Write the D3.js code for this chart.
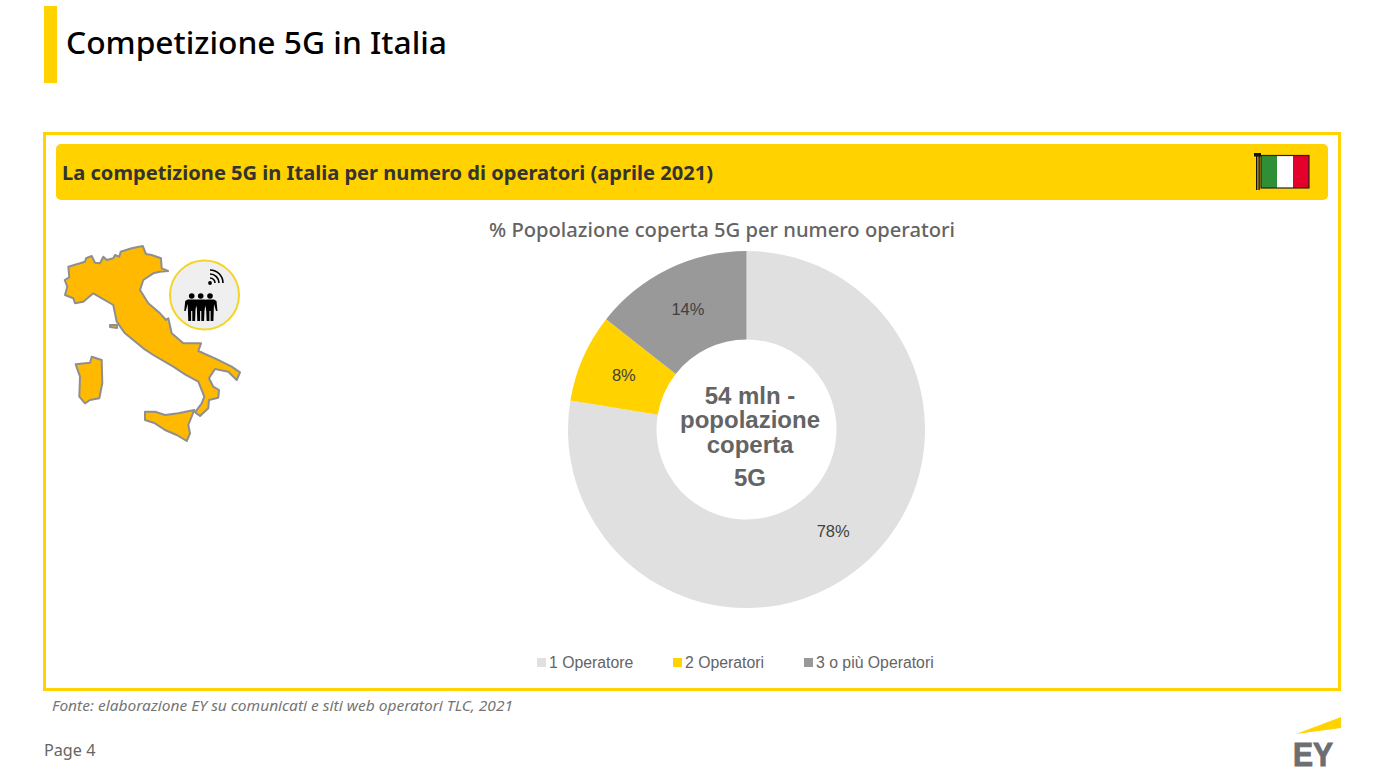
<!DOCTYPE html>
<html>
<head>
<meta charset="utf-8">
<title>Competizione 5G in Italia</title>
<script src="https://cdnjs.cloudflare.com/ajax/libs/d3/7.8.5/d3.min.js"></script>
<style>
html, body { margin: 0; padding: 0; background: #fff; overflow: hidden; }
svg { display: block; }
text { font-family: "Liberation Sans", Arial, sans-serif; }
.ey { font-family: "Noto Sans", sans-serif; }
</style>
</head>
<body>
<div id="container"></div>
<script>
//Chart data (labels are rounded, the slices read a little off the printed numbers)
const categories = ["1 Operatore", "2 Operatori", "3 o più Operatori"];
const values = [77.6, 8, 14.4];
const sliceColors = ["#e0e0e0", "#ffd200", "#999999"];
const centerLines = ["54 mln -", "popolazione", "coperta", "5G"];

//Map outlines (decoration)
const mainland = [[64.7,280],[69.3,277.3],[68.3,266.7],[80,263.3],[85,261.7],[86,258.3],[91.7,256],[95,262.7],[100,263.3],[103.3,256.7],[106.7,260],[113.3,258.3],[115,255],[119.3,256.7],[120.7,251.7],[131.7,248.3],[142.7,246],[146,254],[151.7,255],[161,258.3],[161.7,268.3],[168,271],[160,271.7],[153.3,273.3],[143.3,280],[140,290],[148.3,303.3],[160,313.3],[166,320],[168.3,318.3],[171.7,333.3],[183.3,343.3],[195,343.3],[201,343.3],[198.3,351],[215,358.3],[231.7,366.7],[240,372.3],[236.7,380],[228.3,371.7],[215,369],[209,378.3],[213.3,386.7],[219,390],[218.3,397.7],[209,400],[208.3,408.3],[200,416],[195,412.3],[201.7,403.3],[204.3,396.7],[198.3,381.7],[185,374.3],[173.3,366.7],[153.3,355],[143.3,348.3],[125,333.3],[116.7,321.7],[113.3,305],[93.3,293.3],[83.3,301.7],[75,303.3],[73.3,298.3],[65,295],[67.3,286.7]];
const sardinia = [[75.7,364.3],[90,362.7],[91.7,356.7],[101.7,360],[102.3,383.3],[99.3,398.3],[90,400],[85,403.3],[79.3,396.7],[80,376.7]];
const sicily = [[145,411.7],[155,411.7],[165,415],[178.3,413.3],[194.3,410],[188.3,425],[190,433.3],[186.7,441],[176.7,435],[165,430],[155,423.3],[145,420]];
const elba = [[110,325],[117,325],[117,328],[110,327]];

//Person icon, relative to the middle of the body
const person = [[-4,299.5],[4,299.5],[6.5,301],[7.5,311],[6,311],[4,304],[3.4,321],[0.6,321],[0.6,311],[-0.6,311],[-0.6,321],[-3.4,321],[-4,304],[-6,311],[-7.5,311],[-6.5,301]];

const width = 1375;
const height = 776;
const yellow = "#ffd200";

const svg = d3.select("#container")
    .append("svg")
    .attr("width", width)
    .attr("height", height);

//Slide header
svg.append("rect").attr("x", 44).attr("y", 6).attr("width", 13).attr("height", 77).attr("fill", yellow);
svg.append("text").attr("class", "ey")
    .attr("x", 66).attr("y", 54)
    .attr("font-size", 31).attr("font-weight", 500).attr("textLength", 381).attr("lengthAdjust", "spacingAndGlyphs")
    .attr("fill", "#000").text("Competizione 5G in Italia");

//Yellow frame and banner
svg.append("rect").attr("x", 44.5).attr("y", 133.5).attr("width", 1295).attr("height", 556)
    .attr("fill", "none").attr("stroke", yellow).attr("stroke-width", 3);
svg.append("rect").attr("x", 56).attr("y", 144).attr("width", 1272).attr("height", 56).attr("rx", 5)
    .attr("fill", yellow);
svg.append("text").attr("class", "ey")
    .attr("x", 62).attr("y", 179.5)
    .attr("font-size", 19.5).attr("font-weight", 700).attr("textLength", 651).attr("lengthAdjust", "spacingAndGlyphs")
    .attr("fill", "#333").text("La competizione 5G in Italia per numero di operatori (aprile 2021)");

//Flag
const flag = svg.append("g");
["#2f8f36", "#ffffff", "#e4002b"].forEach((c, i) => {
    flag.append("rect").attr("x", 1261 + i * 16).attr("y", 156).attr("width", 16).attr("height", 32).attr("fill", c);
});
flag.append("rect").attr("x", 1261).attr("y", 155.5).attr("width", 48).attr("height", 32.5)
    .attr("fill", "none").attr("stroke", "#222").attr("stroke-width", 1.2);
flag.append("rect").attr("x", 1256).attr("y", 155).attr("width", 1.4).attr("height", 35).attr("fill", "#111");
flag.append("rect").attr("x", 1258.4).attr("y", 155).attr("width", 1.4).attr("height", 35).attr("fill", "#111");
flag.append("rect").attr("x", 1254).attr("y", 153).attr("width", 7).attr("height", 3.5).attr("fill", "#111");

//Italy map
const line = d3.line().curve(d3.curveLinearClosed);
svg.append("g").selectAll("path")
    .data([mainland, sardinia, sicily, elba])
    .join("path")
    .attr("d", line)
    .attr("fill", "#ffb900")
    .attr("stroke", "#8f8f8f")
    .attr("stroke-width", 2)
    .attr("stroke-linejoin", "round");

//Coverage badge
svg.append("circle").attr("cx", 204.5).attr("cy", 295).attr("r", 34.5)
    .attr("fill", "#efefef").attr("stroke", "#f5d327").attr("stroke-width", 2);
const people = svg.append("g");
[191.7, 200.7, 210].forEach(x => {
    people.append("circle").attr("cx", x).attr("cy", 296).attr("r", 2.8).attr("fill", "#000");
    people.append("path")
        .attr("d", line(person.map(p => [x + p[0], p[1]])))
        .attr("fill", "#000");
});
const wifi = svg.append("g").attr("transform", "translate(210,283)");
wifi.append("circle").attr("r", 1.9).attr("fill", "#000");
[5, 9, 13].forEach(r => {
    wifi.append("path")
        .attr("d", d3.arc()({ innerRadius: r - 0.8, outerRadius: r + 0.8, startAngle: 0, endAngle: Math.PI / 2 }))
        .attr("fill", "#000");
});

//Donut chart
const cx = 746.5, cy = 429.5;
const color = d3.scaleOrdinal(categories, sliceColors);
const pie = d3.pie().sort(null).value((d, i) => values[i]);
const arc = d3.arc().innerRadius(90).outerRadius(178.5);
const labelArc = d3.arc().innerRadius(134).outerRadius(134);
const slices = pie(categories);

svg.append("text").attr("class", "ey")
    .attr("x", 722).attr("y", 237)
    .attr("text-anchor", "middle").attr("font-size", 19.5).attr("font-weight", 500)
    .attr("textLength", 466).attr("lengthAdjust", "spacingAndGlyphs")
    .attr("fill", "#646464").text("% Popolazione coperta 5G per numero operatori");

const donut = svg.append("g").attr("transform", `translate(${cx},${cy})`);
donut.selectAll("path")
    .data(slices)
    .join("path")
    .attr("d", arc)
    .attr("fill", d => color(d.data));
donut.selectAll("text")
    .data(slices)
    .join("text")
    .attr("transform", d => `translate(${labelArc.centroid(d)})`)
    .attr("text-anchor", "middle")
    .attr("dy", "0.35em")
    .attr("font-size", 16.5)
    .attr("fill", "#404040")
    .text(d => Math.round(d.value) + "%");

//Text in the hole
svg.append("g").selectAll("text")
    .data(centerLines)
    .join("text")
    .attr("x", 750)
    .attr("y", (d, i) => [404, 428, 453, 486][i])
    .attr("text-anchor", "middle")
    .attr("font-size", 24)
    .attr("font-weight", 700)
    .attr("fill", "#646464")
    .text(d => d);

//Legend
const legendX = d3.scaleOrdinal(categories, [537, 673, 804]);
const legend = svg.append("g");
legend.selectAll("rect")
    .data(categories)
    .join("rect")
    .attr("x", d => legendX(d))
    .attr("y", 658)
    .attr("width", 9)
    .attr("height", 9)
    .attr("fill", d => color(d));
legend.selectAll("text")
    .data(categories)
    .join("text")
    .attr("x", d => legendX(d) + 12)
    .attr("y", 668)
    .attr("font-size", 15.8)
    .attr("fill", "#646464")
    .text(d => d);

//Footer
svg.append("text").attr("class", "ey")
    .attr("x", 52).attr("y", 711)
    .attr("font-size", 14.5).attr("font-style", "italic")
    .attr("textLength", 461).attr("lengthAdjust", "spacingAndGlyphs")
    .attr("fill", "#757575").text("Fonte: elaborazione EY su comunicati e siti web operatori TLC, 2021");
svg.append("text").attr("class", "ey")
    .attr("x", 44).attr("y", 756)
    .attr("font-size", 16.2).attr("fill", "#666").text("Page 4");

//EY logo
svg.append("path").attr("d", "M1296 734 L1341 717 L1341 728 Z").attr("fill", yellow);
svg.append("text")
    .attr("x", 1293).attr("y", 766)
    .attr("font-size", 33).attr("font-weight", 700)
    .attr("textLength", 40).attr("lengthAdjust", "spacingAndGlyphs")
    .attr("fill", "#6d6e71").attr("stroke", "#6d6e71").attr("stroke-width", 1).text("EY");
</script>
</body>
</html>
